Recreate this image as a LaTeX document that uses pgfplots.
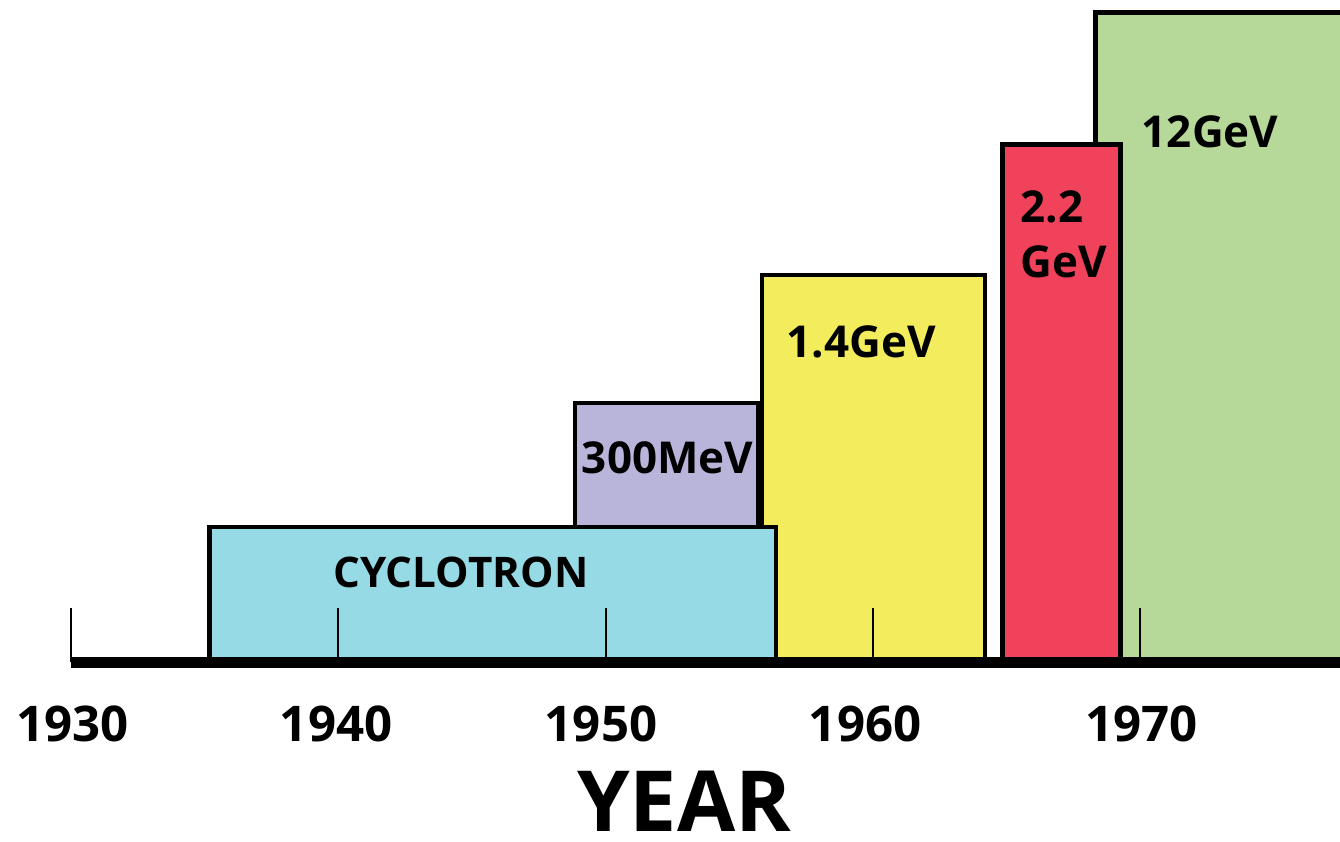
\documentclass[border=0pt]{standalone}
\usepackage{fontspec}
\setmainfont{Open Sans}
\usepackage{pgfplots}
\pgfplotsset{compat=1.18}
\definecolor{cyc}{HTML}{96DAE6}
\definecolor{lav}{HTML}{B9B4DA}
\definecolor{yel}{HTML}{F3EC5C}
\definecolor{redb}{HTML}{F0425A}
\definecolor{grn}{HTML}{B6D898}
\begin{document}
\begin{tikzpicture}
\begin{axis}[
  width=13.4cm, height=8.41cm, scale only axis,
  xmin=1927.343, xmax=1977.48, ymin=0, ymax=841,
  hide axis, clip=true,
  every axis plot/.append style={draw=black, line width=0.045cm, mark=none},
]
% 12 GeV
\addplot[fill=grn] coordinates {(1968.33,179) (1968.33,828.5) (1980,828.5) (1980,179)} -- cycle;
% 2.2 GeV
\addplot[fill=redb] coordinates {(1964.85,179) (1964.85,696.5) (1969.27,696.5) (1969.27,179)} -- cycle;
% 1.4 GeV
\addplot[fill=yel] coordinates {(1955.86,179) (1955.86,566) (1964.20,566) (1964.20,179)} -- cycle;
% 300 MeV
\addplot[fill=lav] coordinates {(1948.86,314) (1948.86,438) (1955.71,438) (1955.71,314)} -- cycle;
% Cyclotron
\addplot[fill=cyc] coordinates {(1935.18,179) (1935.18,314) (1956.38,314) (1956.38,179)} -- cycle;
% ticks
\foreach \yr in {1930,1940,1950,1960,1970}{
  \edef\temp{\noexpand\draw[line width=0.02cm] (axis cs:\yr,179) -- (axis cs:\yr,233);}
  \temp
}
% base line
\draw[line width=0.11cm] (axis cs:1930,179) -- (axis cs:1980,179);
% tick labels
\node[anchor=base, font=\fontsize{14}{16}\selectfont\bfseries] at (axis cs:1930.07,100) {1930};
\node[anchor=base, font=\fontsize{14}{16}\selectfont\bfseries] at (axis cs:1939.92,100) {1940};
\node[anchor=base, font=\fontsize{14}{16}\selectfont\bfseries] at (axis cs:1949.83,100) {1950};
\node[anchor=base, font=\fontsize{14}{16}\selectfont\bfseries] at (axis cs:1959.71,100) {1960};
\node[anchor=base, font=\fontsize{14}{16}\selectfont\bfseries] at (axis cs:1970.04,100) {1970};
\node[anchor=base, inner sep=0pt, font=\fontsize{24}{28}\selectfont\bfseries] at (axis cs:1952.94,10) {YEAR};
% box labels
\node[anchor=base, font=\fontsize{12}{15}\selectfont\bfseries] at (axis cs:1944.59,254) {CYCLOTRON};
\node[anchor=base, font=\fontsize{12.5}{15}\selectfont\bfseries] at (axis cs:1952.32,368) {300MeV};
\node[anchor=base, font=\fontsize{12.5}{15}\selectfont\bfseries] at (axis cs:1959.56,484) {1.4GeV};
\node[anchor=base west, inner xsep=0pt, font=\fontsize{12.5}{15}\selectfont\bfseries] at (axis cs:1965.51,619) {2.2};
\node[anchor=base west, inner xsep=0pt, font=\fontsize{12.5}{15}\selectfont\bfseries] at (axis cs:1965.51,564) {GeV};
\node[anchor=base, font=\fontsize{12.5}{15}\selectfont\bfseries] at (axis cs:1972.62,694) {12GeV};
\end{axis}
\pgfresetboundingbox
\path (current axis.south west) rectangle (current axis.north east);
\end{tikzpicture}
\end{document}
